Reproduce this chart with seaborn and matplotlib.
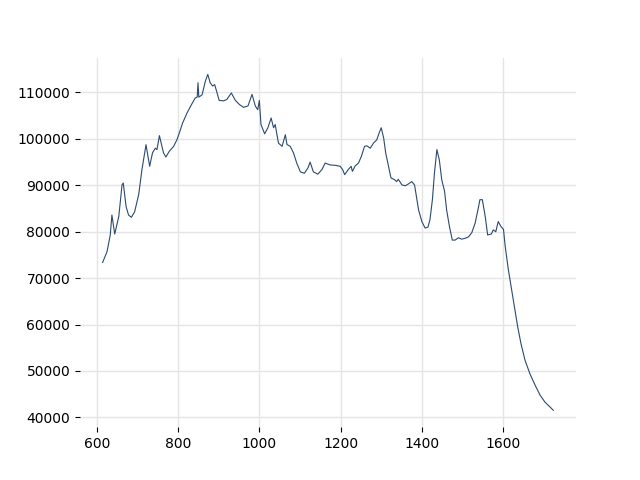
import matplotlib
matplotlib.use("Agg")
import matplotlib.pyplot as plt
import seaborn as sns
import pandas as pd

# wavenumber-like positions and intensity
wavenumber = [614, 625, 633, 637, 644, 654, 662, 665, 672, 678, 685, 693, 703, 711,
              721, 730, 737, 744, 748, 754, 764, 770, 778, 789, 797, 805, 811, 822,
              833, 842, 847, 849, 851, 859, 867, 873, 879, 885, 890, 896, 901, 912,
              920, 931, 941, 951, 961, 972, 982, 990, 996, 1000, 1004, 1013, 1021,
              1029, 1035, 1039, 1047, 1056, 1064, 1068, 1076, 1084, 1092, 1101, 1111,
              1120, 1125, 1133, 1144, 1154, 1162, 1174, 1187, 1199, 1205, 1210, 1219,
              1226, 1229, 1236, 1244, 1251, 1259, 1265, 1273, 1281, 1289, 1295, 1300,
              1306, 1311, 1318, 1324, 1333, 1338, 1342, 1351, 1359, 1367, 1375, 1382,
              1388, 1392, 1400, 1408, 1415, 1420, 1426, 1431, 1437, 1443, 1449, 1456,
              1461, 1468, 1475, 1482, 1490, 1498, 1507, 1515, 1523, 1531, 1539, 1543,
              1549, 1556, 1562, 1571, 1576, 1582, 1588, 1595, 1601, 1605, 1613, 1620,
              1628, 1636, 1644, 1654, 1666, 1679, 1691, 1703, 1716, 1724]
intensity = [73330, 75700, 79300, 83600, 79500, 83300, 90100, 90500, 85400, 83600,
             83100, 84300, 88000, 93400, 98750, 94100, 97000, 98000, 97700, 100700,
             97000, 96100, 97300, 98400, 99800, 101800, 103400, 105600, 107400, 108800,
             109000, 112100, 109000, 109500, 112400, 113900, 112100, 111400, 111700,
             109900, 108300, 108200, 108500, 109900, 108300, 107400, 106800, 107100,
             109600, 107100, 106300, 108300, 103100, 101100, 102400, 104500, 102400,
             103100, 99100, 98400, 100900, 98800, 98400, 97000, 94800, 92900, 92600,
             93800, 95000, 92900, 92400, 93400, 94800, 94400, 94300, 94100, 93400,
             92300, 93400, 94100, 93000, 94200, 94800, 96200, 98400, 98500, 98000,
             99100, 99800, 101300, 102400, 100200, 97000, 94100, 91600, 91200, 90800,
             91300, 90100, 89900, 90300, 90800, 90100, 86900, 84700, 82200, 80800,
             81000, 82600, 86900, 92600, 97700, 95500, 91200, 88700, 84700, 81100,
             78200, 78200, 78700, 78400, 78600, 78900, 79800, 81800, 85100, 86900,
             86900, 83300, 79300, 79500, 80400, 80000, 82200, 81100, 80500, 77000,
             71800, 68100, 63800, 59500, 55900, 52300, 49400, 46900, 44800, 43300,
             42200, 41500]

sns.set_style("whitegrid", {"grid.color": "#e5e5e5", "xtick.bottom": True,
                            "ytick.left": True, "axes.edgecolor": "white"})
plt.rcParams["grid.linewidth"] = 1.0

df = pd.DataFrame({"x": wavenumber, "y": intensity})

fig, ax = plt.subplots(figsize=(6.4, 4.8), dpi=100)
sns.lineplot(data=df, x="x", y="y", ax=ax, color="#2b4a6f", linewidth=0.8)
ax.set_xlabel("")
ax.set_ylabel("")
ax.set_xticks([600, 800, 1000, 1200, 1400, 1600])
sns.despine(ax=ax, left=True, bottom=True)
ax.tick_params(colors="black", labelsize=10)

fig.savefig("out.png")
